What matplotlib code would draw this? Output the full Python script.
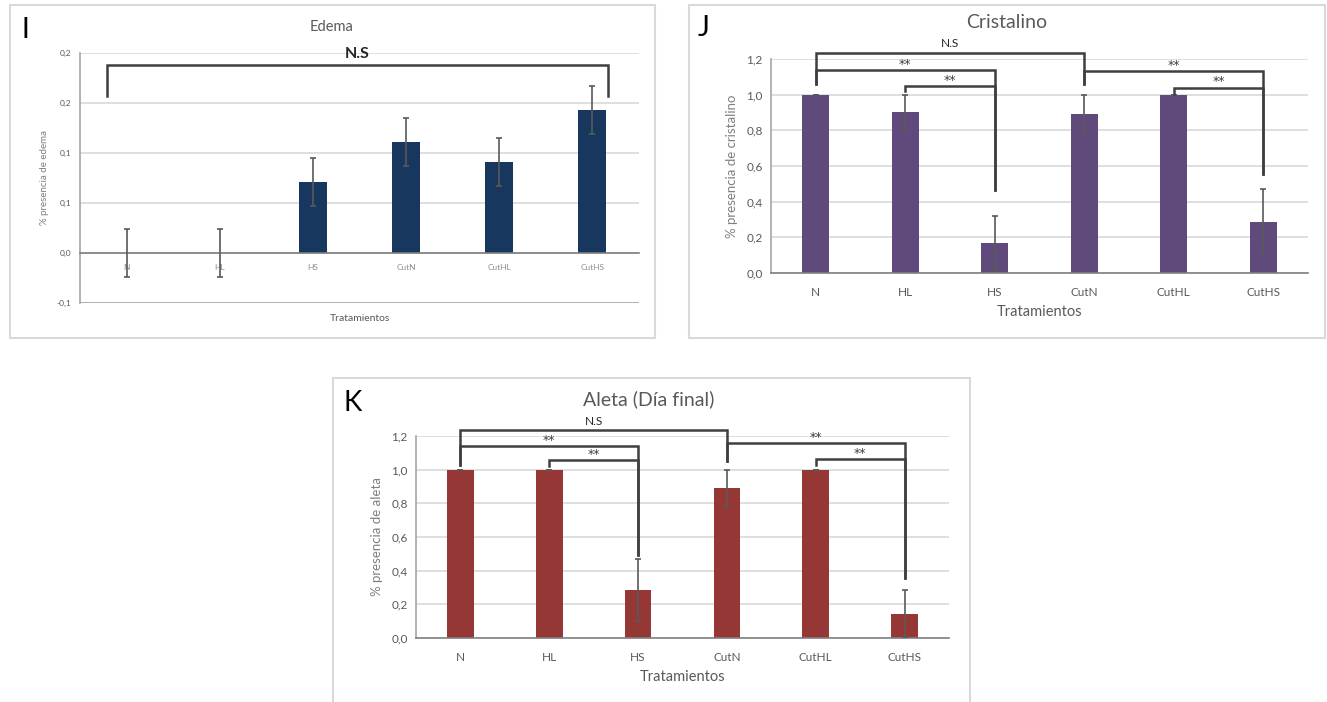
import numpy as np
import matplotlib
matplotlib.use("Agg")
import matplotlib.pyplot as plt
from matplotlib.patches import Rectangle

plt.rcParams['font.family'] = ['Lato', 'DejaVu Sans']

treatments = ["N", "HL", "HS", "CutN", "CutHL", "CutHS"]

edema = [0.0, 0.0, 0.071, 0.111, 0.091, 0.143]
edema_err = [0.024, 0.024, 0.024, 0.024, 0.024, 0.024]

cristalino = [1.0, 0.9, 0.167, 0.889, 1.0, 0.286]
cristalino_err = [0.0, 0.1, 0.153, 0.111, 0.0, 0.185]

aleta = [1.0, 1.0, 0.286, 0.889, 1.0, 0.143]
aleta_err = [0.0, 0.0, 0.184, 0.111, 0.0, 0.14]

# brackets: (x1, x2, y, y_left, y_right, label)
edema_br = [(-0.21, 5.17, 0.188, 0.157, 0.157, "N.S")]
crist_br = [
    (0, 3, 1.234, 1.061, 1.061, "N.S"),
    (0, 2, 1.136, 1.061, 0.465, "**"),
    (1, 2, 1.05, 1.018, 0.465, "**"),
    (3, 5, 1.134, 1.061, 0.553, "**"),
    (4, 5, 1.04, 1.003, 0.553, "**"),
]
aleta_br = [
    (0, 3, 1.233, 1.03, 1.05, "N.S"),
    (0, 2, 1.141, 1.03, 0.493, "**"),
    (1, 2, 1.06, 1.02, 0.493, "**"),
    (3, 5, 1.158, 1.05, 0.359, "**"),
    (4, 5, 1.066, 1.026, 0.359, "**"),
]

W, H = 1327, 702
fig = plt.figure(figsize=(W / 100, H / 100), dpi=100)


def px(l, t, r, b):
    return [l / W, 1 - b / H, (r - l) / W, (b - t) / H]


# panel frames
for (l, t, r, b) in [(10, 5, 655, 338), (689, 5, 1325, 338), (333, 378, 970, 712)]:
    fig.patches.append(Rectangle((l / W, 1 - b / H), (r - l) / W, (b - t) / H,
                                 transform=fig.transFigure, fill=False,
                                 edgecolor="#D9D9D9", lw=1.5))

grey = "#595959"


def panel(rect, vals, errs, color, ylim, ticks, ticklabels, ylabel, brackets,
          fs_tick, fs_lab, fs_ns, ns_bold, ns_off, st_off):
    ax = fig.add_axes(rect)
    x = np.arange(len(treatments))
    ax.bar(x, vals, width=0.3, color=color, zorder=2)
    ax.errorbar(x, vals, yerr=errs, fmt="none", ecolor=grey, elinewidth=1.2,
                capsize=2.5, capthick=1.2, zorder=3)
    ax.set_xlim(-0.5, 5.5)
    ax.set_ylim(*ylim)
    ax.set_yticks(ticks)
    ax.set_yticklabels(ticklabels)
    ax.set_xticks(x)
    ax.set_xticklabels(treatments)
    ax.grid(axis="y", color="#D9D9D9", lw=1.2, zorder=0)
    ax.set_axisbelow(True)
    for s in ["top", "right"]:
        ax.spines[s].set_visible(False)
    ax.spines["left"].set_color("#A6A6A6")
    ax.spines["bottom"].set_color("#808080")
    ax.spines["left"].set_linewidth(1.2)
    ax.spines["bottom"].set_linewidth(1.2)
    ax.tick_params(length=0, labelsize=fs_tick, colors=grey, pad=6)
    ax.tick_params(axis="x", pad=10)
    ax.set_ylabel(ylabel, fontsize=fs_lab, color="#7F7F7F", labelpad=6)
    for (x1, x2, y, yl, yr, lab) in brackets:
        ax.plot([x1, x1, x2, x2], [yl, y, y, yr], color="#3F3F3F", lw=1.8,
                clip_on=False, zorder=4, solid_joinstyle="miter")
        if lab == "N.S":
            ax.text((x1 + x2) / 2, y + ns_off, lab, ha="center", va="center",
                    fontsize=fs_ns, color="#262626",
                    fontweight="bold" if ns_bold else "normal")
        else:
            ax.text((x1 + x2) / 2, y + st_off, lab, ha="center", va="center",
                    fontsize=9, color="#3F3F3F", family="DejaVu Sans")
    return ax


axI = panel(px(80, 53, 639, 303), edema, edema_err, "#17375E", (-0.05, 0.2),
            [-0.05, 0, 0.05, 0.1, 0.15, 0.2],
            ["-0,1", "0,0", "0,1", "0,1", "0,2", "0,2"],
            "% presencia de edema", edema_br, 6, 7, 11.5, True, 0.011, 0.0)
axI.spines["bottom"].set_position(("data", 0))
axI.tick_params(axis="x", pad=8, labelcolor="#8C8C8C")
axI.axhline(-0.05, color="#A6A6A6", lw=1.2, zorder=1)
axI.set_xlabel("Tratamientos", fontsize=7.5, color=grey)
axI.xaxis.set_label_coords(0.5, -0.045)
fig.text(332 / W, 1 - 27 / H, "Edema", ha="center", va="center",
         fontsize=10.5, color=grey)
fig.text(25 / W, 1 - 30 / H, "I", ha="center", va="center", fontsize=20)

ticks12 = [0, 0.2, 0.4, 0.6, 0.8, 1.0, 1.2]
labs12 = ["0,0", "0,2", "0,4", "0,6", "0,8", "1,0", "1,2"]

axJ = panel(px(771, 59, 1308, 273), cristalino, cristalino_err, "#604A7B",
            (0, 1.2), ticks12, labs12, "% presencia de cristalino", crist_br,
            8.5, 9.5, 8.5, False, 0.055, 0.032)
axJ.set_xlabel("Tratamientos", fontsize=10.5, color=grey, labelpad=5)
fig.text(1007 / W, 1 - 23 / H, "Cristalino", ha="center", va="center",
         fontsize=14, color=grey)
fig.text(704 / W, 1 - 28 / H, "J", ha="center", va="center", fontsize=20)

axK = panel(px(416, 436, 949, 638), aleta, aleta_err, "#953735",
            (0, 1.2), ticks12, labs12, "% presencia de aleta", aleta_br,
            8.5, 9.5, 8.5, False, 0.055, 0.032)
axK.set_xlabel("Tratamientos", fontsize=10.5, color=grey, labelpad=5)
fig.text(649 / W, 1 - 399 / H, "Aleta (Día final)", ha="center", va="center",
         fontsize=14, color=grey)
fig.text(353 / W, 1 - 403 / H, "K", ha="center", va="center", fontsize=20)

fig.savefig("out.png", dpi=100)
